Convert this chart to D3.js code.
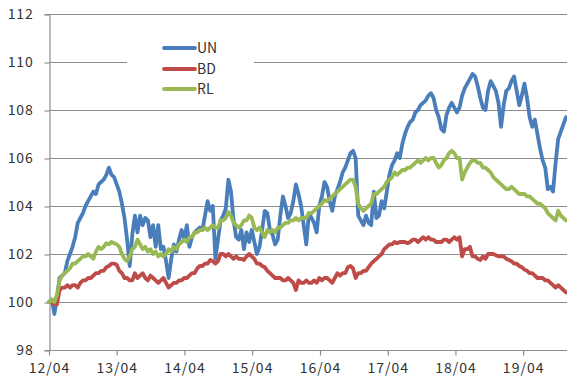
<!DOCTYPE html>
<html>
<head>
<meta charset="utf-8">
<script src="https://cdn.jsdelivr.net/npm/d3@7/dist/d3.min.js"></script>
<style>
  html, body { margin: 0; padding: 0; background: #fff; }
  svg { display: block; }
  text { font-family: "Noto Sans CJK KR", "DejaVu Sans", sans-serif; fill: #333; }
</style>
</head>
<body>
<svg id="chart" width="567" height="378"></svg>
<script>
// Series sampled every 14 days starting 2012-04-02
const startDate = "2012-04-02";
const stepDays = 14;

const seriesNames = ["UN", "BD", "RL"];
const seriesColors = ["#4a7ebb", "#be4b48", "#98b954"];

const unValues = [
  100.0,100.1,99.5,100.2,101.0,101.1,101.2,101.7,102.0,102.3,
  102.7,103.3,103.5,103.7,104.0,104.2,104.4,104.6,104.5,104.9,
  105.0,105.1,105.3,105.6,105.3,105.2,104.9,104.6,104.1,103.5,
  102.6,101.5,102.8,103.6,102.9,103.6,103.2,103.5,103.4,102.7,
  103.2,102.3,103.2,102.2,102.3,101.7,101.0,101.8,102.4,102.1,
  102.6,103.0,102.6,103.2,102.3,102.7,102.9,103.0,103.1,103.0,
  103.6,104.2,103.8,104.0,101.8,102.6,103.4,103.6,103.9,105.1,
  104.6,103.4,102.7,102.6,103.0,102.2,102.9,102.5,103.0,102.5,
  102.0,102.3,103.0,103.8,103.7,103.0,102.8,102.4,102.6,103.6,
  104.4,104.0,103.5,103.7,104.2,104.9,104.5,104.0,103.2,102.4,
  103.7,103.5,103.3,102.9,104.0,104.4,105.0,104.8,104.2,103.8,
  104.4,104.7,105.0,105.4,105.6,105.9,106.2,106.3,106.0,103.6,
  103.4,103.2,103.6,103.3,103.2,104.6,103.5,103.6,104.2,103.9,
  104.6,105.3,105.7,105.9,106.2,106.0,106.6,107.0,107.3,107.5,
  107.6,107.9,108.0,108.2,108.3,108.4,108.6,108.7,108.5,108.0,
  107.7,107.2,107.1,107.8,108.1,108.3,108.1,107.9,108.1,108.6,
  108.9,109.1,109.3,109.5,109.4,109.0,108.5,108.1,108.0,108.8,
  109.2,109.0,108.8,108.3,107.3,108.2,108.8,108.9,109.2,109.4,
  108.8,108.2,108.6,109.1,108.5,107.7,107.3,107.6,107.0,106.4,
  105.9,105.6,104.7,104.8,104.6,105.8,106.8,107.1,107.4,107.7
];

const bdValues = [
  100.0,100.0,99.9,99.9,100.5,100.6,100.6,100.7,100.6,100.7,
  100.7,100.6,100.8,100.9,100.9,101.0,101.0,101.1,101.2,101.2,
  101.3,101.3,101.45,101.5,101.6,101.6,101.55,101.3,101.2,101.0,
  101.0,100.9,100.9,101.2,101.0,101.1,101.2,101.0,100.9,101.1,
  101.0,100.9,100.8,100.9,101.0,100.8,100.6,100.7,100.8,100.8,
  100.9,100.9,101.0,101.0,101.1,101.2,101.2,101.4,101.5,101.5,
  101.6,101.6,101.75,101.7,101.6,101.7,102.0,102.0,101.9,102.0,
  101.9,101.8,101.9,101.8,101.8,101.75,101.9,102.0,101.9,101.8,
  101.6,101.6,101.5,101.45,101.3,101.2,101.1,101.0,101.0,101.0,
  100.9,100.9,101.0,100.9,100.8,100.5,100.9,100.8,100.8,100.9,
  100.8,100.8,100.9,100.8,101.0,100.9,101.0,101.0,100.9,100.8,
  101.0,101.2,101.1,101.2,101.2,101.45,101.5,101.4,101.0,101.2,
  101.2,101.3,101.3,101.45,101.6,101.7,101.8,101.9,102.0,102.2,
  102.3,102.4,102.4,102.5,102.45,102.5,102.5,102.5,102.45,102.5,
  102.6,102.6,102.5,102.6,102.7,102.6,102.7,102.6,102.6,102.5,
  102.5,102.5,102.6,102.6,102.5,102.6,102.7,102.6,102.7,101.9,
  102.2,102.2,102.3,101.9,101.9,101.8,101.75,101.9,101.8,102.0,
  102.0,102.0,101.95,101.9,101.9,101.9,101.8,101.75,101.7,101.6,
  101.6,101.5,101.45,101.35,101.3,101.2,101.2,101.1,101.0,101.0,
  101.0,100.9,100.9,100.8,100.7,100.6,100.7,100.6,100.5,100.4
];

const rlValues = [
  100.0,100.1,100.0,100.3,100.9,101.1,101.2,101.3,101.4,101.6,
  101.6,101.7,101.8,101.9,101.9,102.0,101.9,101.8,102.1,102.3,
  102.2,102.3,102.45,102.4,102.5,102.45,102.4,102.3,102.0,101.8,
  101.7,101.9,102.2,102.3,102.6,102.4,102.2,102.3,102.1,102.2,
  102.0,102.1,101.9,102.0,101.9,102.0,102.2,102.1,102.3,102.2,
  102.4,102.5,102.6,102.5,102.7,102.7,102.9,102.9,103.0,103.0,
  103.1,103.0,103.1,103.2,103.1,103.1,103.4,103.4,103.5,103.75,
  103.6,103.3,103.2,103.1,103.2,103.4,103.4,103.6,103.5,103.1,
  103.0,103.1,102.9,102.7,103.0,102.9,103.0,102.9,103.1,103.1,
  103.2,103.3,103.3,103.4,103.4,103.5,103.4,103.5,103.5,103.5,
  103.7,103.7,103.8,103.9,104.0,104.1,104.25,104.2,104.3,104.4,
  104.5,104.6,104.7,104.8,104.9,105.0,105.1,105.1,104.8,104.1,
  103.9,103.8,103.9,104.0,104.1,104.5,104.5,104.6,104.7,104.8,
  105.0,105.1,105.2,105.4,105.3,105.4,105.5,105.5,105.6,105.6,
  105.7,105.8,105.9,105.8,105.9,106.0,105.9,106.0,106.0,105.8,
  105.6,105.7,105.9,106.0,106.2,106.3,106.2,106.0,106.0,105.1,
  105.4,105.6,105.8,105.9,105.9,105.8,105.8,105.6,105.6,105.5,
  105.4,105.2,105.1,105.0,104.9,104.8,104.7,104.7,104.8,104.7,
  104.6,104.5,104.5,104.5,104.4,104.4,104.3,104.2,104.1,104.1,
  104.0,103.9,103.7,103.6,103.5,103.4,103.8,103.6,103.5,103.4
];

const yTickValues = [98, 100, 102, 104, 106, 108, 110, 112];
const xTickDates = ["2012-04-01","2013-04-01","2014-04-01","2015-04-01",
                    "2016-04-01","2017-04-01","2018-04-01","2019-04-01"];

const parse = d3.utcParse("%Y-%m-%d");
const t0 = parse(startDate);
const dates = unValues.map((_, i) => d3.utcDay.offset(t0, i * stepDays));

const svg = d3.select("#chart");
const plotLeft = 49, plotRight = 566, plotTop = 14, plotBottom = 350;

const x = d3.scaleUtc()
  .domain([parse("2012-04-01"), dates[dates.length - 1]])
  .range([plotLeft, plotRight]);
const y = d3.scaleLinear().domain([98, 112]).range([plotBottom, plotTop]);

const gridColor = "#8d8d8d";

// horizontal gridlines
svg.append("g")
  .selectAll("line")
  .data(yTickValues.filter(v => v !== 98))
  .join("line")
  .attr("x1", plotLeft).attr("x2", 567)
  .attr("y1", d => Math.round(y(d)) + 0.5)
  .attr("y2", d => Math.round(y(d)) + 0.5)
  .attr("stroke", gridColor).attr("stroke-width", 1.2);

// y axis
const yAxis = d3.axisLeft(y).tickValues(yTickValues).tickSize(5).tickPadding(11)
  .tickFormat(d3.format("d"));
const gy = svg.append("g").attr("transform", `translate(${plotLeft + 0.5},0)`).call(yAxis);
gy.select(".domain").attr("stroke", gridColor).attr("stroke-width", 1.2);
gy.selectAll(".tick line").attr("stroke", gridColor).attr("stroke-width", 1.2)
  .attr("transform", "translate(0,0.5)");
gy.selectAll(".tick text").attr("font-size", 14).attr("fill", "#333")
  .attr("font-family", "'Noto Sans CJK KR', sans-serif").attr("letter-spacing", 0.8);

// x axis
const xAxis = d3.axisBottom(x).tickValues(xTickDates.map(parse)).tickSize(5).tickPadding(8)
  .tickFormat(d3.utcFormat("%y/%m"));
const gx = svg.append("g").attr("transform", `translate(0,${plotBottom + 0.5})`).call(xAxis);
gx.select(".domain").attr("stroke", gridColor).attr("stroke-width", 1.2)
  .attr("d", `M${plotLeft},0H567`);
gx.selectAll(".tick line").attr("stroke", gridColor).attr("stroke-width", 1.2);
gx.selectAll(".tick text").attr("font-size", 14).attr("fill", "#333")
  .attr("font-family", "'Noto Sans CJK KR', sans-serif").attr("letter-spacing", 1);

// legend background interrupts the 110 gridline
svg.append("rect").attr("x", 127).attr("y", 36).attr("width", 127).attr("height", 64)
  .attr("fill", "#fff");

// series lines
const line = d3.line().x((d, i) => x(dates[i])).y(d => y(d));
const allSeries = [unValues, bdValues, rlValues];
svg.append("g").selectAll("path")
  .data([0, 1, 2])
  .join("path")
  .attr("d", k => line(allSeries[k]))
  .attr("fill", "none")
  .attr("stroke", k => seriesColors[k])
  .attr("stroke-width", 3.8)
  .attr("stroke-linejoin", "round")
  .attr("stroke-linecap", "round");

// legend
const legendY = [48, 69, 89];
const lg = svg.append("g");
seriesNames.forEach((name, k) => {
  lg.append("line")
    .attr("x1", 164).attr("x2", 195)
    .attr("y1", legendY[k]).attr("y2", legendY[k])
    .attr("stroke", seriesColors[k]).attr("stroke-width", 3.8)
    .attr("stroke-linecap", "round");
  lg.append("text")
    .attr("x", 197).attr("y", legendY[k] + 5)
    .attr("font-size", 14)
    .text(name);
});
</script>
</body>
</html>
